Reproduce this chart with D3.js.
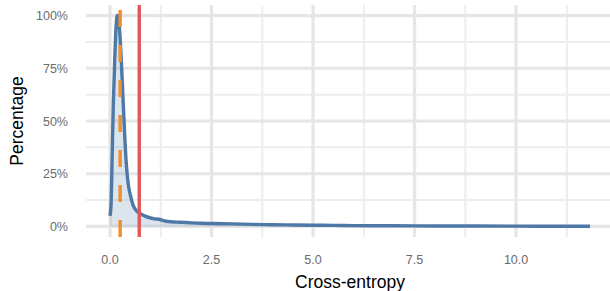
<!DOCTYPE html>
<html>
<head>
<meta charset="utf-8">
<script src="https://cdn.jsdelivr.net/npm/d3@7"></script>
<style>
  body { margin: 0; background: #fff; }
  text { font-family: "Liberation Sans", Arial, sans-serif; }
</style>
</head>
<body>
<svg width="610" height="291"></svg>
<script>
// density curve, percentage of max
let entropy = [0, 0.025, 0.05, 0.08, 0.12, 0.15, 0.18, 0.21, 0.24, 0.28, 0.32, 0.36, 0.4, 0.45, 0.5, 0.57, 0.65, 0.75, 0.85, 1.0, 1.1, 1.2, 1.35, 1.5, 1.75, 2.0, 2.25, 2.5, 3.0, 3.5, 4.0, 4.5, 5.0, 5.5, 6.0, 7.0, 8.0, 9.0, 10.0, 11.0, 11.82];
let percent = [5, 10, 30, 57, 81, 95, 100, 98, 92, 78, 61, 44, 30, 20, 15, 10, 7.5, 6, 5, 4, 3.6, 3.4, 2.6, 2.2, 2.0, 1.7, 1.5, 1.4, 1.2, 1.0, 0.8, 0.7, 0.6, 0.5, 0.4, 0.3, 0.25, 0.2, 0.15, 0.1, 0.1];
let medianValue = 0.25;
let meanValue = 0.72;
let xTicks = [0, 2.5, 5, 7.5, 10];
let xMinor = [1.25, 3.75, 6.25, 8.75, 11.25];
let yTicks = [0, 25, 50, 75, 100];
let yMinor = [12.5, 37.5, 62.5, 87.5];

let data = entropy.map((d, i) => ({x: d, y: percent[i]}));

let padLeft = 86, padRight = 614, padTop = 5, padBottom = 237;

let xScale = d3.scaleLinear()
               .domain([-0.591, 12.411])
               .range([padLeft, padRight]);

let yScale = d3.scaleLinear()
               .domain([-5, 105])
               .range([padBottom, padTop]);

let svg = d3.select('svg');

// grid
let grid = svg.append('g');
grid.selectAll('.ymin').data(yMinor).enter().append('line')
    .attr('x1', padLeft).attr('x2', padRight)
    .attr('y1', d => yScale(d)).attr('y2', d => yScale(d))
    .attr('stroke', '#ededed').attr('stroke-width', 2);
grid.selectAll('.xmin').data(xMinor).enter().append('line')
    .attr('y1', padTop).attr('y2', padBottom)
    .attr('x1', d => xScale(d)).attr('x2', d => xScale(d))
    .attr('stroke', '#ededed').attr('stroke-width', 2);
grid.selectAll('.ymaj').data(yTicks).enter().append('line')
    .attr('x1', padLeft).attr('x2', padRight)
    .attr('y1', d => yScale(d)).attr('y2', d => yScale(d))
    .attr('stroke', '#e6e6e6').attr('stroke-width', 3.2);
grid.selectAll('.xmaj').data(xTicks).enter().append('line')
    .attr('y1', padTop).attr('y2', padBottom)
    .attr('x1', d => xScale(d)).attr('x2', d => xScale(d))
    .attr('stroke', '#e6e6e6').attr('stroke-width', 3.2);

// area + line
let curve = d3.curveMonotoneX;
svg.append('path')
    .datum(data)
    .attr('fill', '#4e79a7')
    .attr('fill-opacity', 0.2)
    .attr('d', d3.area().x(d => xScale(d.x)).y0(yScale(0)).y1(d => yScale(d.y)).curve(curve));

svg.append('path')
    .datum(data)
    .attr('fill', 'none')
    .attr('stroke', '#4e79a7')
    .attr('stroke-width', 3.4)
    .attr('stroke-linejoin', 'round')
    .attr('d', d3.line().x(d => xScale(d.x)).y(d => yScale(d.y)).curve(curve));

// median & mean
svg.append('line')
    .attr('x1', xScale(medianValue)).attr('x2', xScale(medianValue))
    .attr('y1', padBottom).attr('y2', padTop)
    .attr('stroke', '#f28e2b').attr('stroke-width', 3.4)
    .attr('stroke-dasharray', '17,18');

svg.append('line')
    .attr('x1', xScale(meanValue)).attr('x2', xScale(meanValue))
    .attr('y1', padBottom).attr('y2', padTop)
    .attr('stroke', '#e15759').attr('stroke-width', 3.4);

// tick labels
svg.selectAll('.ylab').data(yTicks).enter().append('text')
    .attr('x', 68).attr('y', d => yScale(d))
    .attr('dy', '0.36em')
    .attr('text-anchor', 'end')
    .attr('font-size', 12.5).attr('fill', '#6b6b6b')
    .text(d => d + '%');

svg.selectAll('.xlab').data(xTicks).enter().append('text')
    .attr('x', d => xScale(d)).attr('y', 263.5)
    .attr('text-anchor', 'middle')
    .attr('font-size', 12.5).attr('fill', '#6b6b6b')
    .text(d => d3.format('.1f')(d));

// titles
svg.append('text')
    .attr('x', (padLeft + padRight) / 2).attr('y', 288)
    .attr('text-anchor', 'middle')
    .attr('font-size', 17.5).attr('fill', '#000')
    .text('Cross-entropy');

svg.append('text')
    .attr('transform', `translate(23,${(padTop + padBottom) / 2}) rotate(-90)`)
    .attr('text-anchor', 'middle')
    .attr('font-size', 17.5).attr('fill', '#000')
    .text('Percentage');
</script>
</body>
</html>
